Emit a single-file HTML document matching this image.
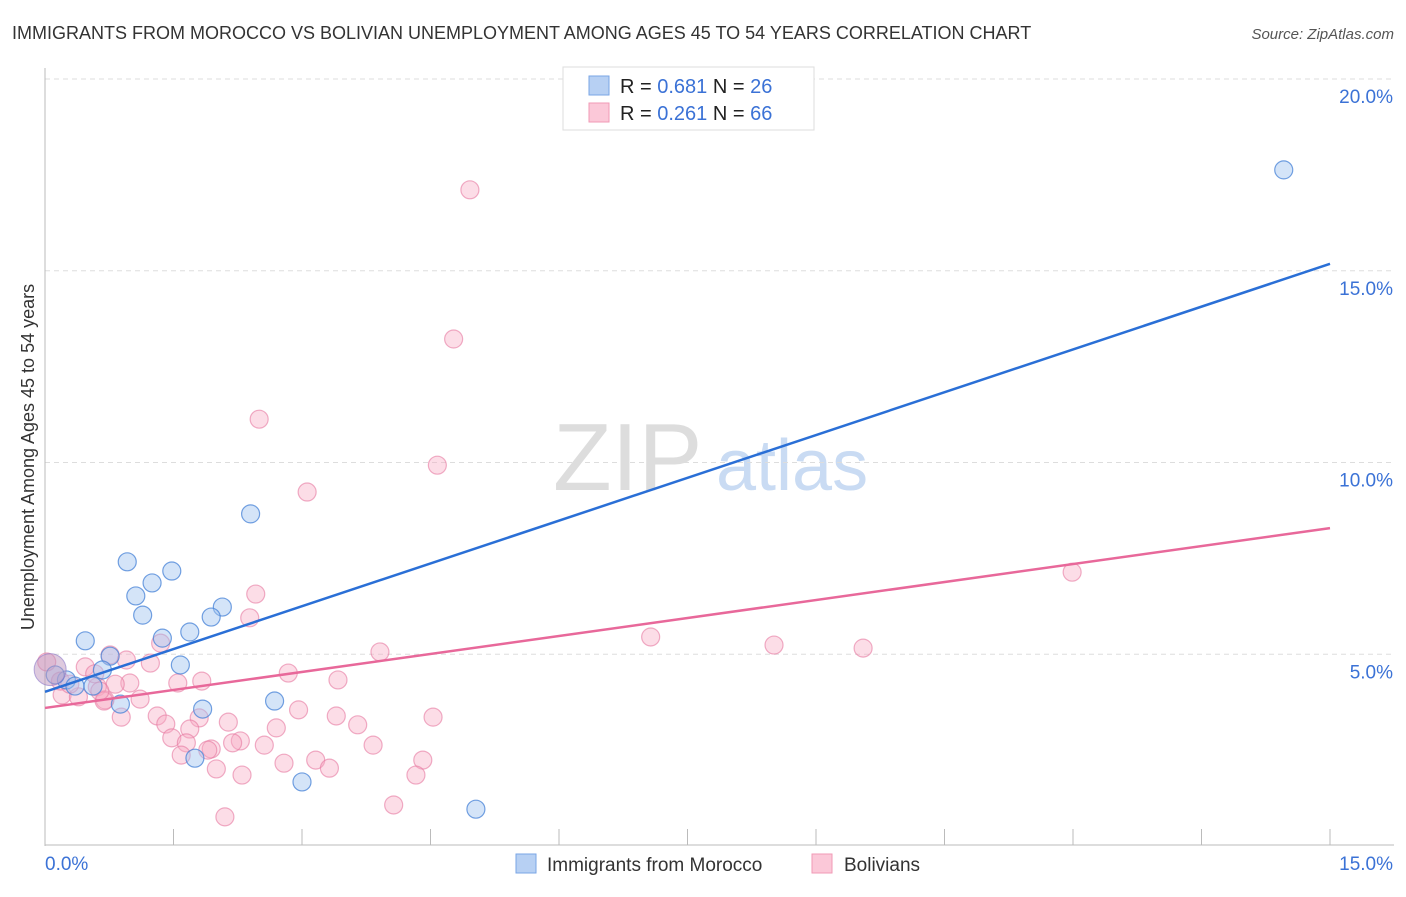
<!DOCTYPE html>
<html><head><meta charset="utf-8"><style>
body{margin:0;background:#fff;font-family:"Liberation Sans",sans-serif;}
svg text{font-family:"Liberation Sans",sans-serif;}
</style></head><body>
<svg id="chart" width="1406" height="892" xmlns="http://www.w3.org/2000/svg">
<text x="12" y="39" font-size="18" fill="#333">IMMIGRANTS FROM MOROCCO VS BOLIVIAN UNEMPLOYMENT AMONG AGES 45 TO 54 YEARS CORRELATION CHART</text>
<text x="1394" y="39" font-size="15" fill="#555" text-anchor="end" font-style="italic">Source: ZipAtlas.com</text>
<g>
<text x="553" y="490" font-size="96" fill="#ddd" font-family="Liberation Serif">ZIP</text>
<text x="716" y="490" font-size="72" fill="#c9dbf3">atlas</text>
</g>
<g id="grid"></g>
<g id="axes"></g>
<g id="marks"></g>
<g>
<rect x="563" y="67" width="251" height="63" fill="#fff" stroke="#ddd"/>
<rect x="589" y="76" width="20" height="19" fill="#b7d0f3" stroke="#7aa6e6"/>
<rect x="589" y="103" width="20" height="19" fill="#fbc8d8" stroke="#f09ab6"/>
<text x="620" y="93" font-size="20" fill="#222">R = <tspan fill="#3b72d6">0.681</tspan>   N = <tspan fill="#3b72d6">26</tspan></text>
<text x="620" y="120" font-size="20" fill="#222">R = <tspan fill="#3b72d6">0.261</tspan>   N = <tspan fill="#3b72d6">66</tspan></text>
</g>
<g>
<rect x="516" y="854" width="20" height="19" fill="#b7d0f3" stroke="#7aa6e6"/>
<text x="547" y="871" font-size="19" fill="#333">Immigrants from Morocco</text>
<rect x="812" y="854" width="20" height="19" fill="#fbc8d8" stroke="#f09ab6"/>
<text x="844" y="871" font-size="19" fill="#333">Bolivians</text>
</g>
<text transform="translate(34,457) rotate(-90)" font-size="18" fill="#333" text-anchor="middle">Unemployment Among Ages 45 to 54 years</text>
</svg>
<script>
const yTicks=[5,10,15,20];
const yTickLabels=["5.0%","10.0%","15.0%","20.0%"];
const xTicks=[0,1.5,3,4.5,6,7.5,9,10.5,12,13.5,15];
const blueX=[14.46,2.40,0.96,1.25,1.48,1.06,1.14,2.07,1.94,1.69,1.37,0.47,1.58,0.76,0.67,0.25,0.35,0.56,0.12,2.68,1.84,0.88,1.75,3.00,5.03];
const blueY=[17.63,8.66,7.41,6.86,7.17,6.52,6.02,6.23,5.97,5.58,5.42,5.35,4.72,4.95,4.59,4.33,4.17,4.17,4.46,3.78,3.57,3.70,2.29,1.67,0.96];
const pinkX=[4.96,4.77,2.50,4.58,3.06,11.99,2.46,2.39,7.07,8.51,9.55,1.35,3.91,0.76,1.23,2.84,3.42,0.47,0.95,1.55,1.83,0.99,0.82,0.61,0.20,0.39,0.70,1.11,0.69,0.89,1.31,1.41,1.80,2.96,3.40,3.65,4.53,2.14,2.70,1.69,1.48,1.65,2.28,2.19,1.94,2.56,3.83,1.59,1.90,3.16,2.79,3.32,4.41,2.00,2.30,4.33,4.07,2.10,0.18,0.29,0.64,0.58,0.02];
const pinkY=[17.11,13.22,11.13,9.93,9.23,7.14,6.57,5.95,5.45,5.24,5.16,5.29,5.06,4.98,4.77,4.51,4.33,4.67,4.85,4.25,4.30,4.25,4.22,4.15,3.94,3.89,3.81,3.83,3.78,3.36,3.39,3.18,3.34,3.55,3.39,3.16,3.36,3.23,3.08,3.05,2.82,2.69,2.74,2.69,2.53,2.63,2.63,2.37,2.50,2.24,2.16,2.03,2.24,2.01,1.85,1.85,1.07,0.76,4.30,4.22,4.04,4.49,4.80];
const bigPoint=[0.06,4.6];
const blueTrend=[4.02,15.18];
const pinkTrend=[3.60,8.29];
const NS="http://www.w3.org/2000/svg";
const X=v=>45+v/15*1285, Y=v=>846-v/5*191.75;
function mk(p,tag,a){const e=document.createElementNS(NS,tag);for(const k in a)e.setAttribute(k,a[k]);p.appendChild(e);return e;}
const grid=document.getElementById('grid'),axes=document.getElementById('axes'),marks=document.getElementById('marks');
yTicks.forEach((t,i)=>{
 const l=mk(grid,'line',{x1:45,x2:1394,y1:Y(t),y2:Y(t),stroke:'#ddd','stroke-dasharray':'5,4'});
 
 
 const tx=mk(axes,'text',{x:1393,y:Y(t)+24,'font-size':19,fill:'#3b72d6','text-anchor':'end'});
 tx.textContent=yTickLabels[i];
 
 
});
let a=mk(axes,'line',{x1:45,x2:45,y1:68,y2:846,stroke:'#bbb'});


a=mk(axes,'line',{x1:45,x2:1394,y1:845,y2:845,stroke:'#bbb'});


xTicks.forEach(t=>{
 const l=mk(axes,'line',{x1:X(t),x2:X(t),y1:829,y2:845,stroke:'#bbb'});
 
 
});
let t0=mk(axes,'text',{x:45,y:870,'font-size':19,fill:'#3b72d6'});t0.textContent="0.0%";


let t1=mk(axes,'text',{x:1393,y:870,'font-size':19,fill:'#3b72d6','text-anchor':'end'});t1.textContent="15.0%";


pinkX.forEach((x,i)=>{
 const c=mk(marks,'circle',{cx:X(x),cy:Y(pinkY[i]),r:9,fill:'rgba(248,170,196,0.4)',stroke:'rgba(230,120,160,0.6)','stroke-width':1.2});
 
 
});
blueX.forEach((x,i)=>{
 const c=mk(marks,'circle',{cx:X(x),cy:Y(blueY[i]),r:9,fill:'rgba(160,195,240,0.45)',stroke:'rgba(70,130,215,0.75)','stroke-width':1.2});
 
 
});
const bp=mk(marks,'circle',{cx:X(bigPoint[0]),cy:Y(bigPoint[1]),r:16,fill:'rgba(190,150,190,0.5)',stroke:'rgba(140,120,200,0.6)'});


const bl=mk(marks,'line',{x1:X(0),y1:Y(blueTrend[0]),x2:X(15),y2:Y(blueTrend[1]),stroke:'#2a6fd6','stroke-width':2.5});


const pl=mk(marks,'line',{x1:X(0),y1:Y(pinkTrend[0]),x2:X(15),y2:Y(pinkTrend[1]),stroke:'#e8689a','stroke-width':2.5});


</script>
</body></html>
